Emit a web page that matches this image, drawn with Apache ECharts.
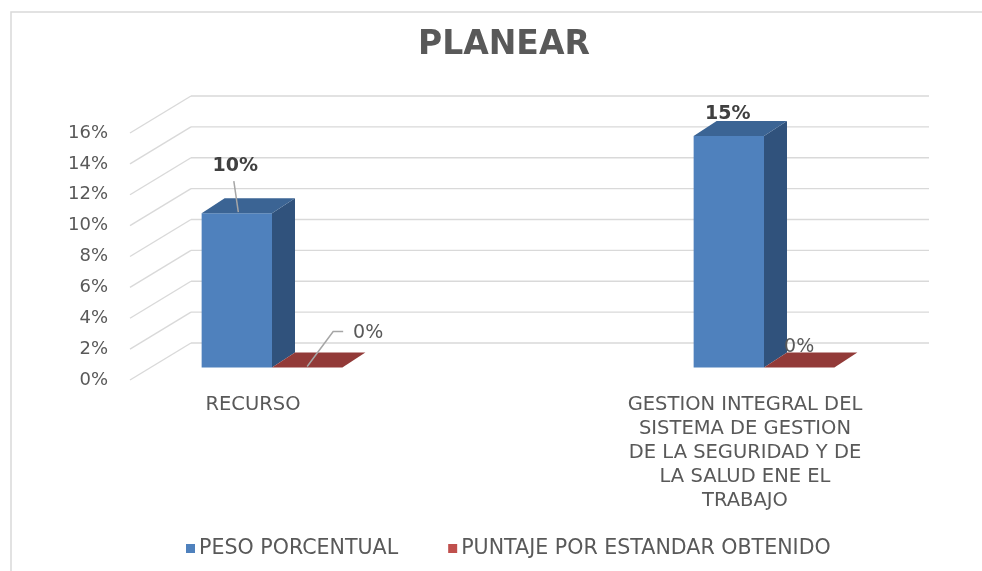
<!DOCTYPE html>
<html>
<head>
<meta charset="utf-8">
<title>PLANEAR</title>
<script src="https://cdn.jsdelivr.net/npm/echarts@6/dist/echarts.min.js"></script>
<style>
  html, body { margin: 0; padding: 0; background: #fff; }
  #chart { width: 982px; height: 571px; }
</style>
</head>
<body>
<div id="chart"></div>
<script>
// ---------- data ----------
const categories = [
  'RECURSO',
  'GESTION INTEGRAL DEL\nSISTEMA DE GESTION\nDE LA SEGURIDAD Y DE\nLA SALUD ENE EL\nTRABAJO'
];
const seriesNames = ['PESO PORCENTUAL', 'PUNTAJE POR ESTANDAR OBTENIDO'];
const pesoValues = [10, 15];
const puntajeValues = [0, 0];
const yTicks = [0, 2, 4, 6, 8, 10, 12, 14, 16];

// ---------- look ----------
const FONT = 'DejaVu Sans';
const TEXT = '#595959';
const GRID_LINE = '#D9D9D9';
const X_MIN = -0.25, X_MAX = 1.25;
const WALL = [61, -37];        // front plane -> back wall
const BAR_FRONT = [19, -12.5]; // front plane -> bar front face
const BAR_DEPTH = [23, -15];   // bar front face -> bar back face
const BAR_FRAC = 0.143;        // bar width as part of one category step

const palette = [
  { front: '#4F81BD', side: '#30527C', top: '#3B6494', legend: '#4F81BD' },
  { front: '#C0504D', side: '#7E2F2E', top: '#923A38', legend: '#C0504D' }
];

// label placement relative to the bar's front-top centre (Excel labels were moved by hand)
const labelPlacement = [
  [ { dx: -1.5, dy: -47, bold: true, leader: [[1.5, -1], [-3, -32]] },
    { dx: -1, dy: -22, bold: true } ],
  [ { dx: 61, dy: -34, leader: [[0, -1], [26, -36], [36, -36]] },
    { dx: 0, dy: -20 } ]
];

const chart = echarts.init(document.getElementById('chart'));

function renderWall(params, api) {
  const v = api.value(1);
  const a = api.coord([X_MIN, v]);
  const b = api.coord([X_MAX, v]);
  const lineStyle = { stroke: GRID_LINE, lineWidth: 1.4 };
  return {
    type: 'group',
    children: [
      { type: 'line', shape: { x1: a[0] + WALL[0], y1: a[1] + WALL[1], x2: b[0] + WALL[0], y2: b[1] + WALL[1] }, style: lineStyle },
      { type: 'line', shape: { x1: a[0], y1: a[1], x2: a[0] + WALL[0], y2: a[1] + WALL[1] }, style: lineStyle }
    ]
  };
}

function makeBarRenderer(s) {
  return function (params, api) {
    const i = api.value(0);
    const v = api.value(1);
    const base = api.coord([i, 0]);
    const top = api.coord([i, v]);
    const w = api.size([1, 0])[0] * BAR_FRAC;
    const x0 = base[0] - w + s * w + BAR_FRONT[0];
    const x1 = x0 + w;
    const yB = base[1] + BAR_FRONT[1];
    const yT = top[1] + BAR_FRONT[1];
    const [ddx, ddy] = BAR_DEPTH;
    const c = palette[s];
    const children = [
      { type: 'rect', shape: { x: x0, y: yT, width: w, height: yB - yT }, style: { fill: c.front } },
      { type: 'polygon', shape: { points: [[x1, yT], [x1 + ddx, yT + ddy], [x1 + ddx, yB + ddy], [x1, yB]] }, style: { fill: c.side } },
      { type: 'polygon', shape: { points: [[x0, yT], [x0 + ddx, yT + ddy], [x1 + ddx, yT + ddy], [x1, yT]] }, style: { fill: c.top } }
    ];
    const cx = (x0 + x1) / 2;
    const lp = labelPlacement[s][params.dataIndex];
    if (lp.leader) {
      children.push({
        type: 'polyline',
        shape: { points: lp.leader.map(p => [cx + p[0], yT + p[1]]) },
        style: { stroke: '#A6A6A6', lineWidth: 1.5, fill: null },
        z2: 5
      });
    }
    children.push({
      type: 'text',
      z2: 6,
      style: {
        text: v + '%',
        x: cx + lp.dx,
        y: yT + lp.dy,
        align: 'center',
        verticalAlign: 'middle',
        fontFamily: FONT,
        fontSize: 19,
        fontWeight: lp.bold ? 'bold' : 'normal',
        fill: lp.bold ? '#404040' : TEXT
      }
    });
    return { type: 'group', children };
  };
}

const option = {
  backgroundColor: '#ffffff',
  animation: false,
  textStyle: { fontFamily: FONT },
  graphic: [{
    type: 'rect', silent: true, z: -10,
    shape: { x: 11, y: 12, width: 1100, height: 700 },
    style: { fill: 'none', stroke: GRID_LINE, lineWidth: 1.5 }
  }],
  title: {
    text: 'PLANEAR',
    left: 418, top: 29, padding: 0,
    textStyle: { fontFamily: FONT, fontSize: 33, fontWeight: 'bold', color: TEXT }
  },
  legend: {
    data: seriesNames,
    left: 186, top: 538, padding: 0,
    icon: 'rect', itemWidth: 9, itemHeight: 9, itemGap: 50,
    textStyle: { fontFamily: FONT, fontSize: 20.6, color: TEXT, padding: [0, 0, 0, -1] }
  },
  grid: { left: 130, right: 114, top: 133, bottom: 191 },
  xAxis: {
    type: 'value', min: X_MIN, max: X_MAX,
    axisLine: { show: false }, axisTick: { show: false }, splitLine: { show: false },
    axisLabel: {
      customValues: categories.map((_, i) => i),
      formatter: v => categories[Math.round(v)] || '',
      margin: 13, lineHeight: 24, fontSize: 19.5, color: TEXT, fontFamily: FONT, align: 'center'
    }
  },
  yAxis: {
    type: 'value', min: 0, max: 16, interval: 2,
    axisLine: { show: false }, axisTick: { show: false }, splitLine: { show: false },
    axisLabel: { formatter: '{value}%', margin: 22, fontSize: 18, color: TEXT, fontFamily: FONT }
  },
  series: [
    {
      type: 'custom', name: 'walls', z: 1, silent: true,
      renderItem: renderWall,
      data: yTicks.map(v => [0, v]),
      encode: { x: 0, y: 1 }
    },
    {
      type: 'custom', name: seriesNames[0], z: 2,
      itemStyle: { color: palette[0].legend },
      renderItem: makeBarRenderer(0),
      data: pesoValues.map((v, i) => [i, v]),
      encode: { x: 0, y: 1 }
    },
    {
      type: 'custom', name: seriesNames[1], z: 3,
      itemStyle: { color: palette[1].legend },
      renderItem: makeBarRenderer(1),
      data: puntajeValues.map((v, i) => [i, v]),
      encode: { x: 0, y: 1 }
    }
  ]
};

chart.setOption(option);
</script>
</body>
</html>
